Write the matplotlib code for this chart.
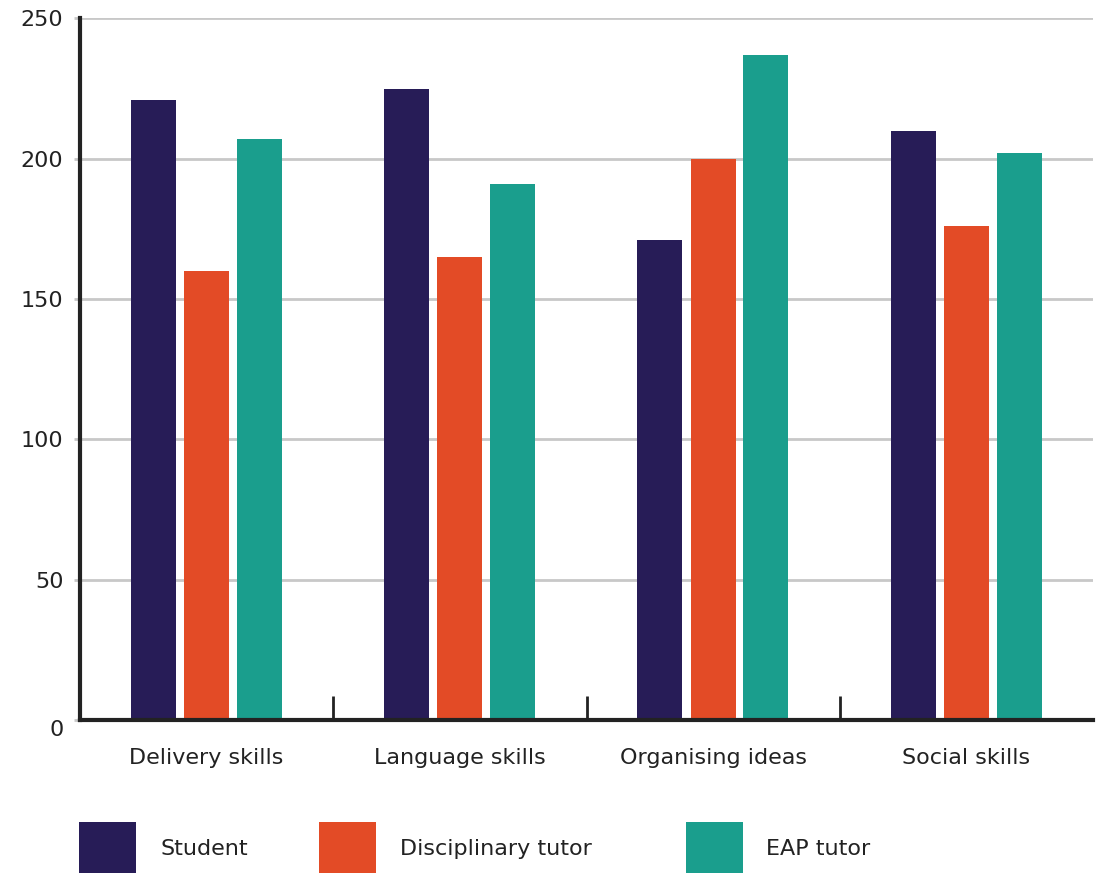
import matplotlib
matplotlib.use("Agg")
import matplotlib.pyplot as plt
from matplotlib.patches import Rectangle
from matplotlib.transforms import ScaledTranslation
import numpy as np

categories = ["Delivery skills", "Language skills", "Organising ideas", "Social skills"]
series_names = ["Student", "Disciplinary tutor", "EAP tutor"]
student = [221, 225, 171, 210]
disciplinary_tutor = [160, 165, 200, 176]
eap_tutor = [207, 191, 237, 202]
y_ticks = [0, 50, 100, 150, 200, 250]

colors = ["#271c57", "#e34b26", "#1a9e8d"]
text_color = "#222222"

plt.rcParams["font.family"] = ["DejaVu Sans"]
FS = 16

W, H = 1104, 873
fig = plt.figure(figsize=(W / 100, H / 100), dpi=100)
ax = fig.add_axes([80 / W, (H - 720) / H, (1093 - 80) / W, (720 - 18.5) / H])

x = np.arange(len(categories)) + 0.5
offsets = [-0.21, 0.0, 0.208]
width = 0.178
for vals, off, c in zip([student, disciplinary_tutor, eap_tutor], offsets, colors):
    ax.bar(x + off, vals, width=width, color=c, zorder=3)

ax.set_xlim(0, len(categories))
ax.set_ylim(0, 250)

ax.set_yticks(y_ticks)
ax.set_yticklabels([str(v) for v in y_ticks], fontsize=FS, color=text_color)
ax.yaxis.grid(True, color="#c8c8c8", linewidth=2, zorder=0)
ax.tick_params(axis="y", length=4, width=2, color="#c8c8c8", pad=8)
# the zero label sits a little below the baseline
zero_label = ax.get_yticklabels()[0]
zero_label.set_transform(zero_label.get_transform() +
                         ScaledTranslation(0, -8 / 100, fig.dpi_scale_trans))

# separators between groups as inward ticks, labels on minor ticks
ax.set_xticks(np.arange(1, len(categories)))
ax.set_xticklabels([])
ax.tick_params(axis="x", which="major", direction="in", length=17, width=2, color="#222222")
ax.set_xticks(x, minor=True)
ax.set_xticklabels(categories, minor=True, fontsize=FS, color=text_color)
ax.tick_params(axis="x", which="minor", length=0, pad=20)

for s in ["top", "right"]:
    ax.spines[s].set_visible(False)
for s in ["left", "bottom"]:
    ax.spines[s].set_color("#222222")
    ax.spines[s].set_linewidth(3)
    ax.spines[s].set_zorder(4)

# legend along the bottom
leg_box_x = [79, 319, 686]
leg_text_x = [160, 400, 766]
for name, c, bx, tx in zip(series_names, colors, leg_box_x, leg_text_x):
    fig.add_artist(Rectangle((bx / W, 0), 57 / W, (H - 822) / H,
                             transform=fig.transFigure, color=c, lw=0))
    fig.text(tx / W, (H - 849) / H, name, fontsize=FS, color=text_color,
             va="center", ha="left")

fig.savefig("out.png", dpi=100)
